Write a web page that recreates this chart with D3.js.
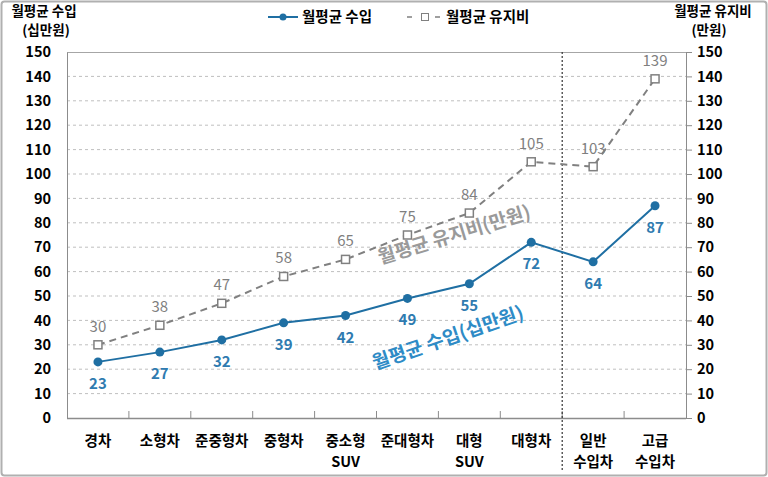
<!DOCTYPE html>
<html><head><meta charset="utf-8">
<script src="https://cdn.jsdelivr.net/npm/d3@7/dist/d3.min.js"></script>
<style>body{margin:0;background:#fff}svg{display:block}text{font-family:"Noto Sans CJK KR","Noto Sans",sans-serif}</style>
</head><body>
<script>
const categories = [["경차"],["소형차"],["준중형차"],["중형차"],["중소형","SUV"],["준대형차"],["대형","SUV"],["대형차"],["일반","수입차"],["고급","수입차"]];
const income = [23,27,32,39,42,49,55,72,64,87];
const upkeep = [30,38,47,58,65,75,84,105,103,139];
const yTicks = d3.range(0,151,10);

const W=768,H=477;
const m={l:67,r:686,t:52,b:418};
const FS=14.5;
const svg=d3.select("body").append("svg").attr("width",W).attr("height",H);
svg.append("rect").attr("x",1.5).attr("y",1.5).attr("width",W-3).attr("height",H-3).attr("fill","#fff").attr("stroke","#b0b0b0").attr("stroke-width",2).attr("rx",3);

const x=d3.scaleBand().domain(d3.range(categories.length)).range([m.l,m.r]);
const y=d3.scaleLinear().domain([0,150]).range([m.b,m.t]);
const cx=i=>x(i)+x.bandwidth()/2;

svg.append("g").selectAll("line").data(yTicks.filter(d=>d>0&&d<150)).join("line")
 .attr("x1",m.l).attr("x2",m.r).attr("y1",d=>y(d)).attr("y2",d=>y(d))
 .attr("stroke","#bfbfbf").attr("stroke-dasharray","3,3").attr("stroke-width",1);
svg.append("line").attr("x1",m.l).attr("x2",m.r).attr("y1",m.t+0.5).attr("y2",m.t+0.5).attr("stroke","#a6a6a6");

const ga=svg.append("g").attr("transform",`translate(${m.l},0)`)
 .call(d3.axisLeft(y).tickValues(yTicks).tickSize(0).tickPadding(16));
ga.select(".domain").attr("stroke","#8c8c8c");
ga.selectAll("text").attr("font-size",FS).attr("font-weight","bold").attr("fill","#000");
const gr=svg.append("g").attr("transform",`translate(${m.r},0)`)
 .call(d3.axisRight(y).tickValues(yTicks).tickSize(6).tickPadding(5));
gr.select(".domain").attr("stroke","#8c8c8c");
gr.selectAll("line").attr("stroke","#8c8c8c");
gr.selectAll("text").attr("font-size",FS).attr("font-weight","bold").attr("fill","#000");

svg.append("line").attr("x1",m.l).attr("x2",m.r).attr("y1",m.b+0.5).attr("y2",m.b+0.5).attr("stroke","#8c8c8c").attr("stroke-width",1.5);
svg.append("g").selectAll("line").data(d3.range(1,categories.length)).join("line")
 .attr("x1",i=>x(i)).attr("x2",i=>x(i)).attr("y1",m.b).attr("y2",m.b-7).attr("stroke","#8c8c8c");
const cl=svg.append("g").selectAll("text").data(categories).join("text")
 .attr("x",(d,i)=>cx(i)).attr("y",446).attr("text-anchor","middle").attr("font-size",FS).attr("font-weight","bold").attr("fill","#000");
cl.selectAll("tspan").data(d=>d).join("tspan").attr("x",function(){return this.parentNode.getAttribute("x")}).attr("dy",(d,i)=>i?21:0).text(d=>d);

svg.append("line").attr("x1",x(8)).attr("x2",x(8)).attr("y1",m.t).attr("y2",470).attr("stroke","#333").attr("stroke-dasharray","2,2").attr("stroke-width",1.2);

const line=d3.line().x((d,i)=>cx(i)).y(d=>y(d));
svg.append("path").datum(upkeep).attr("d",line).attr("fill","none").attr("stroke","#808080").attr("stroke-width",2).attr("stroke-dasharray","7,5");
svg.append("g").selectAll("rect").data(upkeep).join("rect")
 .attr("x",(d,i)=>cx(i)-4).attr("y",d=>y(d)-4).attr("width",8).attr("height",8).attr("fill","#fff").attr("stroke","#808080").attr("stroke-width",1.5);
svg.append("g").selectAll("text").data(upkeep).join("text")
 .attr("x",(d,i)=>cx(i)).attr("y",d=>y(d)-13).attr("text-anchor","middle").attr("font-size",15).attr("fill","#7f7f7f").text(d=>d);

svg.append("path").datum(income).attr("d",line).attr("fill","none").attr("stroke","#1f6fa3").attr("stroke-width",2);
svg.append("g").selectAll("circle").data(income).join("circle")
 .attr("cx",(d,i)=>cx(i)).attr("cy",d=>y(d)).attr("r",4.5).attr("fill","#1f6fa3");
svg.append("g").selectAll("text").data(income).join("text")
 .attr("x",(d,i)=>cx(i)).attr("y",d=>y(d)+27).attr("text-anchor","middle").attr("font-size",15).attr("font-weight","bold").attr("fill","#2f7bb0").text(d=>d);

svg.append("text").attr("transform","translate(456,241) rotate(-17)").attr("text-anchor","middle").attr("font-size",19).attr("font-weight","bold").attr("fill","#9a9a9a").text("월평균 유지비(만원)");
svg.append("text").attr("transform","translate(450,344) rotate(-19)").attr("text-anchor","middle").attr("font-size",19).attr("font-weight","bold").attr("fill","#2e8bc6").text("월평균 수입(십만원)");

function title(lines, xs){
  const ys=[15.6,35.4];
  lines.forEach((s,i)=>svg.append("text").attr("x",xs[i]).attr("y",ys[i]).attr("text-anchor","middle").attr("font-size",13.5).attr("font-weight","bold").text(s));
}
title(["월평균 수입","(십만원)"],[44,46]);
title(["월평균 유지비","(만원)"],[713,709]);

svg.append("line").attr("x1",268).attr("x2",298).attr("y1",17).attr("y2",17).attr("stroke","#1f6fa3").attr("stroke-width",2);
svg.append("circle").attr("cx",283).attr("cy",17).attr("r",3.5).attr("fill","#1f6fa3");
svg.append("text").attr("x",302).attr("y",22).attr("font-size",FS).attr("font-weight","bold").text("월평균 수입");
svg.append("line").attr("x1",407).attr("x2",444).attr("y1",17).attr("y2",17).attr("stroke","#808080").attr("stroke-width",1.5).attr("stroke-dasharray","5,9");
svg.append("rect").attr("x",421.5).attr("y",13.5).attr("width",7).attr("height",7).attr("fill","#fff").attr("stroke","#808080");
svg.append("text").attr("x",446).attr("y",22).attr("font-size",FS).attr("font-weight","bold").text("월평균 유지비");
</script>
</body></html>
